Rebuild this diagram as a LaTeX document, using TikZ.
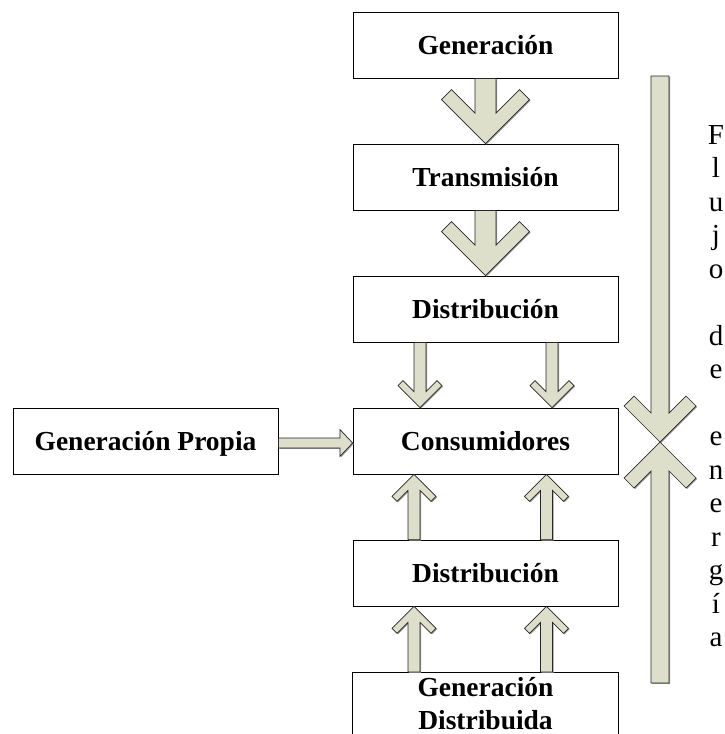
\documentclass[tikz,border=0pt]{standalone}
\usepackage{fontspec}
\setmainfont{Liberation Serif}
\usetikzlibrary{calc}
\definecolor{flowfill}{RGB}{221,223,203}
\tikzset{
  box/.style={draw=black, line width=0.8pt, minimum width=265pt, minimum height=66pt,
    inner sep=0pt, font=\fontsize{27.5}{33}\selectfont\bfseries,
    text height=18.2pt, text depth=0pt, align=center},
  flow/.style={fill=flowfill, draw=black!85, line width=0.7pt, line join=miter,
    preaction={fill=black!40, transform canvas={xshift=1.1pt, yshift=-0.9pt}}},
  vletter/.style={font=\fontsize{29}{33.5}\selectfont, anchor=base, inner sep=0pt}
}
% vertical chevron arrow: #1 shaft start, #2 tip, #3 +1 pointing down / -1 pointing up,
% #4 half shaft width, #5 wing length, #6 wing cap
\newcommand\vchev[6]{%
  \path[flow] let \p1=(#1), \p2=(#2) in
    ({\x2-#4},\y1) -- ({\x2-#4},{\y2+(#3)*(2*#6+#4)})
    -- ({\x2-(#5-#6)},{\y2+(#3)*(#5+#6)}) -- ({\x2-#5},{\y2+(#3)*#5})
    -- (\x2,\y2)
    -- ({\x2+#5},{\y2+(#3)*#5}) -- ({\x2+(#5-#6)},{\y2+(#3)*(#5+#6)})
    -- ({\x2+#4},{\y2+(#3)*(2*#6+#4)}) -- ({\x2+#4},\y1) -- cycle;}
% horizontal block arrow pointing right: #1 start, #2 tip, #3 half shaft width,
% #4 head length, #5 head half height
\newcommand\hblock[5]{%
  \path[flow] let \p1=(#1), \p2=(#2) in
    (\x1,{\y2+#3}) -- ({\x2-#4},{\y2+#3}) -- ({\x2-#4},{\y2+#5}) -- (\x2,\y2)
    -- ({\x2-#4},{\y2-#5}) -- ({\x2-#4},{\y2-#3}) -- (\x1,{\y2-#3}) -- cycle;}

\begin{document}
\begin{tikzpicture}[x=1pt, y=-1pt]
  \useasboundingbox (0,0) rectangle (725,734);
  \clip (0,0) rectangle (725,734);

  % boxes
  \node[box] (gen)  at (485.5,45)  {Generación};
  \node[box] (tra)  at (485.5,177) {Transmisión};
  \node[box] (dis)  at (485.5,309) {Distribución};
  \node[box] (con)  at (485.5,441) {Consumidores};
  \node[box] (gp)   at (145.5,441) {Generación Propia};
  \node[box] (dis2) at (485.5,573) {Distribución};
  \node[box, draw=none, minimum height=62pt, text height=51.2pt, anchor=north]
    (gd) at (485.5,672) {Generación\\Distribuida};
  \draw[line width=0.8pt] ([yshift=-8pt]gd.south west) -- (gd.north west)
    -- (gd.north east) -- ([yshift=-8pt]gd.south east);

  % main flow arrows
  \vchev{gen.south}{tra.north}{1}{10.5pt}{44pt}{10pt}
  \vchev{tra.south}{dis.north}{1}{10.5pt}{44pt}{10pt}
  \vchev{[xshift=-65.5pt]dis.south}{[xshift=-65.5pt]con.north}{1}{6pt}{22pt}{5pt}
  \vchev{[xshift=66.5pt]dis.south}{[xshift=66.5pt]con.north}{1}{6pt}{22pt}{5pt}
  \vchev{[xshift=-71.5pt]dis2.north}{[xshift=-71.5pt]con.south}{-1}{6pt}{22pt}{5pt}
  \vchev{[xshift=61pt]dis2.north}{[xshift=61pt]con.south}{-1}{6pt}{22pt}{5pt}
  \vchev{[xshift=-71.5pt]gd.north}{[xshift=-71.5pt]dis2.south}{-1}{6pt}{22pt}{5pt}
  \vchev{[xshift=61pt]gd.north}{[xshift=61pt]dis2.south}{-1}{6pt}{22pt}{5pt}
  \hblock{[yshift=-2pt]gp.east}{[yshift=-2pt]con.west}{5pt}{12.7pt}{13.5pt}

  % energy flow bar with converging heads
  \coordinate (ftop) at (660,76);
  \coordinate (fbot) at (660,683);
  \coordinate (fmid) at (660,442);
  \vchev{ftop}{fmid}{1}{9pt}{36pt}{10pt}
  \vchev{fbot}{fmid}{-1}{9pt}{36pt}{10pt}

  % vertical caption
  \foreach \ch/\k in {F/0,l/1,u/2,j/3,o/4,d/6,e/7,e/9,n/10,e/11,r/12,g/13,í/14,a/15}
    \node[vletter] (v\k) at (716,{144+33.5*\k}) {\ch};
\end{tikzpicture}
\end{document}
